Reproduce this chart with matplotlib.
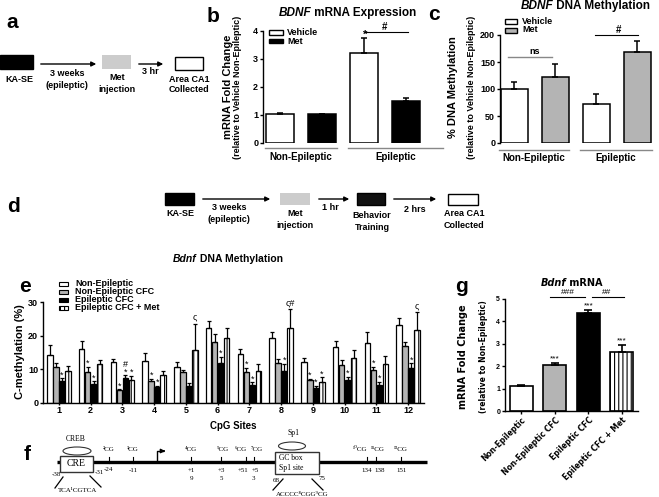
import numpy as np
import matplotlib
matplotlib.use('Agg')
import matplotlib.pyplot as plt
from matplotlib.patches import Rectangle, Ellipse

W, H = 659, 497

# ---- panel b: BDNF mRNA expression
b_groups = ['Non-Epileptic', 'Epileptic']
b_vehicle = [1.02, 3.2]
b_vehicle_err = [0.06, 0.55]
b_met = [1.02, 1.5]
b_met_err = [0.03, 0.12]

# ---- panel c: BDNF DNA methylation
c_groups = ['Non-Epileptic', 'Epileptic']
c_vehicle = [100, 72]
c_vehicle_err = [13, 19]
c_met = [122, 168]
c_met_err = [24, 20]

# ---- panel e: Bdnf DNA methylation per CpG site
e_sites = [1, 2, 3, 4, 5, 6, 7, 8, 9, 10, 11, 12]
e_series = ['Non-Epileptic', 'Non-Epileptic CFC', 'Epileptic CFC', 'Epileptic CFC + Met']
e_ne = [14.3, 15.9, 12.3, 12.5, 10.6, 22.2, 14.5, 19.4, 12.3, 16.5, 17.8, 23.1]
e_ne_err = [2.9, 2.6, 0.9, 2.3, 1.6, 2.3, 1.5, 1.6, 1.0, 2.0, 3.2, 2.0]
e_necfc = [10.8, 9.3, 3.8, 6.5, 9.1, 18.1, 9.1, 11.8, 6.7, 11.3, 9.8, 16.8]
e_necfc_err = [1.2, 1.5, 0.3, 0.7, 0.8, 2.4, 1.4, 1.4, 0.5, 1.5, 1.0, 1.2]
e_ecfc = [6.5, 5.7, 7.3, 4.8, 5.1, 11.8, 5.3, 9.5, 4.4, 6.8, 5.3, 10.3]
e_ecfc_err = [0.8, 0.7, 1.0, 0.3, 0.7, 1.9, 0.9, 2.2, 0.7, 1.0, 1.0, 1.5]
e_met = [9.6, 11.7, 6.9, 8.2, 15.8, 19.4, 9.6, 22.4, 6.3, 13.3, 11.5, 21.8]
e_met_err = [1.4, 1.1, 1.2, 1.3, 7.7, 3.0, 2.0, 5.5, 1.3, 2.3, 2.5, 5.2]
# (site, series index, mark)
e_marks = [(1, 2, '*'), (2, 1, '*'), (2, 2, '*'), (3, 1, '*'), (3, 2, '#\n*'), (3, 3, '*'),
           (4, 1, '*'), (4, 2, '*'), (5, 3, 'ς'), (6, 2, '*'), (7, 1, '*'), (7, 2, '*'),
           (8, 2, '*'), (8, 3, 'ς#'), (9, 1, '*'), (9, 2, '*'), (9, 3, '*'), (10, 2, '*'),
           (11, 1, '*'), (11, 2, '*'), (12, 2, '*'), (12, 3, 'ς')]

# ---- panel g: Bdnf mRNA
g_labels = ['Non-Epileptic', 'Non-Epileptic CFC', 'Epileptic CFC', 'Epileptic CFC + Met']
g_vals = [1.12, 2.07, 4.38, 2.65]
g_err = [0.06, 0.08, 0.12, 0.3]
g_marks = ['', '***', '***', '***']

GRAY = '#b4b4b4'
plt.rcParams['font.family'] = ['Liberation Sans', 'DejaVu Sans']
plt.rcParams['font.weight'] = 'bold'
plt.rcParams['axes.labelweight'] = 'bold'
plt.rcParams['hatch.linewidth'] = 0.8
SERIF = ['Liberation Serif', 'DejaVu Serif']
WIDE = ['DejaVu Sans']

fig = plt.figure(figsize=(W / 100, H / 100), dpi=100)
ov = fig.add_axes([0, 0, 1, 1])
ov.set_xlim(0, W)
ov.set_ylim(H, 0)
ov.axis('off')


def px_axes(l, t, w, h):
    return fig.add_axes([l / W, 1 - (t + h) / H, w / W, h / H])


def prism(ax, size=6.5):
    for s in ['top', 'right']:
        ax.spines[s].set_visible(False)
    for s in ['left', 'bottom']:
        ax.spines[s].set_linewidth(1.0)
    ax.tick_params(direction='out', length=2.5, width=1, labelsize=size, pad=1)
    ax.patch.set_alpha(0)


def bars(ax, x, vals, errs, color, width, hatch=None, lw=1.1, cap=2.5):
    ax.bar(x, vals, width, color=color, edgecolor='black', linewidth=lw, hatch=hatch, zorder=2)
    ax.errorbar(x, vals, yerr=[np.zeros(len(vals)), errs], fmt='none', ecolor='black',
                elinewidth=lw, capsize=cap, capthick=lw, zorder=3)


def box(x0, y0, x1, y1, fc, hatch=None, lw=1.0):
    ov.add_patch(Rectangle((x0, y0), x1 - x0, y1 - y0, facecolor=fc, edgecolor='black',
                           linewidth=lw, hatch=hatch))


def arrow(x0, x1, y):
    ov.annotate('', xy=(x1, y), xytext=(x0, y),
                arrowprops=dict(arrowstyle='-|>', color='black', lw=1.0, mutation_scale=7))


def title2(xsplit, y, ital, rest, size, family=None):
    kw = {'family': family} if family else {}
    ov.text(xsplit, y, ital, ha='right', va='center', fontsize=size, style='italic', **kw)
    ov.text(xsplit, y, rest, ha='left', va='center', fontsize=size, **kw)


# panel letters
for letter, x, y in [('a', 12, 23), ('b', 213, 17), ('c', 434, 15), ('d', 14, 207),
                     ('e', 25, 287), ('f', 27, 455), ('g', 461, 287)]:
    ov.text(x, y, letter, fontsize=15, ha='center', va='center')

# ---- panel a flow chart
box(0, 55, 33, 69, 'black')
ov.text(19, 80, 'KA-SE', ha='center', va='center', fontsize=6.5)
arrow(38, 99, 64)
ov.text(67, 74, '3 weeks', ha='center', va='center', fontsize=6.5)
ov.text(67, 85, '(epileptic)', ha='center', va='center', fontsize=6.5)
box(102, 55, 131, 69, '#cccccc', lw=0)
ov.text(117, 77, 'Met', ha='center', va='center', fontsize=6.5)
ov.text(117, 89, 'injection', ha='center', va='center', fontsize=6.5)
arrow(136, 166, 64)
ov.text(150, 72, '3 hr', ha='center', va='center', fontsize=6.5)
box(175, 57, 203, 70, 'white')
ov.text(189, 80, 'Area CA1', ha='center', va='center', fontsize=6.5)
ov.text(189, 90, 'Collected', ha='center', va='center', fontsize=6.5)

# ---- panel d flow chart
box(165, 193, 194, 205, 'black')
ov.text(180, 214, 'KA-SE', ha='center', va='center', fontsize=6.5)
arrow(200, 273, 199)
ov.text(229, 208, '3 weeks', ha='center', va='center', fontsize=6.5)
ov.text(229, 220, '(epileptic)', ha='center', va='center', fontsize=6.5)
box(280, 193, 310, 205, '#cccccc', lw=0)
ov.text(295, 214, 'Met', ha='center', va='center', fontsize=6.5)
ov.text(295, 226, 'injection', ha='center', va='center', fontsize=6.5)
arrow(316, 352, 199)
ov.text(330, 208, '1 hr', ha='center', va='center', fontsize=6.5)
box(357, 193, 385, 205, '#111111')
ov.text(372, 216, 'Behavior', ha='center', va='center', fontsize=6.5)
ov.text(372, 227, 'Training', ha='center', va='center', fontsize=6.5)
arrow(391, 439, 199)
ov.text(415, 209, '2 hrs', ha='center', va='center', fontsize=6.5)
box(448, 194, 478, 205, 'white')
ov.text(464, 214, 'Area CA1', ha='center', va='center', fontsize=6.5)
ov.text(464, 226, 'Collected', ha='center', va='center', fontsize=6.5)

# ---- panel b
axb = px_axes(263, 31, 180, 112)
prism(axb)
xb = np.array([0, 2])
bars(axb, xb, b_vehicle, b_vehicle_err, 'white', 0.67)
bars(axb, xb + 1, b_met, b_met_err, 'black', 0.67)
axb.set_xlim(-0.405, 3.88)
axb.set_ylim(0, 4)
axb.set_yticks([0, 1, 2, 3, 4])
axb.spines['bottom'].set_visible(False)
axb.set_xticks([])
for (x0, x1), name in zip([(-0.36, 1.36), (1.62, 3.88)], b_groups):
    axb.plot([x0, x1], [-0.18, -0.18], color='#888888', lw=1.0, clip_on=False)
    axb.text((x0 + x1) / 2, -0.32, name, ha='center', va='top', fontsize=7)
fig.text(228 / W, 1 - 87 / H, 'mRNA Fold Change', rotation=90, ha='center', va='center', fontsize=8)
fig.text(237 / W, 1 - 87 / H, '(relative to Vehicle Non-Epileptic)', rotation=90, ha='center',
         va='center', fontsize=6.5)
title2(311, 13, 'BDNF', ' mRNA Expression', 8.5)
box(269, 30, 283, 34.5, 'white')
box(269, 38.5, 283, 43, 'black')
ov.text(287, 32.5, 'Vehicle', va='center', fontsize=6.5)
ov.text(287, 41, 'Met', va='center', fontsize=6.5)
ov.text(365, 35, '*', ha='center', va='center', fontsize=8)
ov.plot([365, 408], [32, 32], color='black', lw=0.8)
ov.text(385, 27, '#', ha='center', va='center', fontsize=7)

# ---- panel c
axc = px_axes(500, 35, 155, 108)
prism(axc)
xc = np.array([0, 2])
bars(axc, xc, c_vehicle, c_vehicle_err, 'white', 0.65)
bars(axc, xc + 1, c_met, c_met_err, GRAY, 0.65)
axc.set_xlim(-0.35, 3.43)
axc.set_ylim(0, 200)
axc.set_yticks([0, 50, 100, 150, 200])
axc.spines['bottom'].set_visible(False)
axc.set_xticks([])
for (x0, x1), name in zip([(-0.38, 1.34), (1.59, 3.36)], c_groups):
    axc.plot([x0, x1], [-13, -13], color='#888888', lw=1.0, clip_on=False)
    axc.text((x0 + x1) / 2, -19, name, ha='center', va='top', fontsize=7)
fig.text(453 / W, 1 - 87 / H, '% DNA Methylation', rotation=90, ha='center', va='center', fontsize=8)
fig.text(472 / W, 1 - 87 / H, '(relative to Vehicle Non-Epileptic)', rotation=90, ha='center',
         va='center', fontsize=6.5)
title2(553, 6, 'BDNF', ' DNA Methylation', 8.5)
box(505, 19, 517, 23.5, 'white')
box(505, 28, 517, 32.5, GRAY)
ov.text(522, 21, 'Vehicle', va='center', fontsize=6.5)
ov.text(522, 30, 'Met', va='center', fontsize=6.5)
ov.plot([508, 552], [57, 57], color='#888888', lw=1.0)
ov.text(535, 52, 'ns', ha='center', va='center', fontsize=6.5)
ov.plot([595, 638], [35, 35], color='black', lw=0.8)
ov.text(619, 30, '#', ha='center', va='center', fontsize=7)

# ---- panel e
axe = px_axes(43, 302, 381, 101)
prism(axe)
xs = np.array(e_sites, dtype=float)
offs = [-0.285, -0.095, 0.095, 0.285]
e_vals = [e_ne, e_necfc, e_ecfc, e_met]
e_errs = [e_ne_err, e_necfc_err, e_ecfc_err, e_met_err]
e_style = [('white', None), (GRAY, None), ('black', None), ('white', '||||')]
for vals, errs, off, (fc, ht) in zip(e_vals, e_errs, offs, e_style):
    bars(axe, xs + off, vals, errs, fc, 0.17, hatch=ht, lw=0.9, cap=1.6)
for site, si, mark in e_marks:
    top = e_vals[si][site - 1] + e_errs[si][site - 1]
    if mark.startswith('ς'):
        axe.text(site + offs[si], top + 0.6, mark, ha='center', va='bottom', fontsize=6.5,
                 fontweight='normal', linespacing=0.8)
    else:
        axe.text(site + offs[si], top - 0.4, mark, ha='center', va='bottom', fontsize=6.5,
                 fontweight='normal', linespacing=0.8)
axe.set_xlim(0.5, 12.5)
axe.set_ylim(0, 30)
axe.set_yticks([0, 10, 20, 30])
axe.set_xticks(e_sites)
axe.tick_params(axis='x', length=1.5)
axe.set_xlabel('CpG Sites', fontsize=7, labelpad=4)
fig.text(20 / W, 1 - 352 / H, 'C-methylation (%)', rotation=90, ha='center', va='center', fontsize=8)
title2(197, 259, 'Bdnf', ' DNA Methylation', 7.5)
for i, (name, (fc, ht)) in enumerate(zip(e_series, e_style)):
    y = 284 + 8 * i
    box(59, y - 2.2, 68, y + 2.2, fc, hatch=ht, lw=0.8)
    ov.text(75, y, name, va='center', fontsize=6.5)

# ---- panel f promoter diagram
ov.plot([57, 427], [462, 462], color='black', lw=2.4, solid_capstyle='butt')
ov.add_patch(Rectangle((60, 456), 33, 16, facecolor='white', edgecolor='#333333', lw=1.0, zorder=3))
ov.text(76.5, 464, 'CRE', ha='center', va='center', fontsize=7, family=SERIF, fontweight='normal', zorder=4)
ov.add_patch(Ellipse((77, 451), 28, 8, facecolor='white', edgecolor='#333333', lw=0.8))
ov.text(76, 439, 'CREB', ha='center', va='center', fontsize=5.5, family=SERIF, fontweight='normal')
ov.add_patch(Rectangle((275, 452), 44, 22, facecolor='white', edgecolor='#333333', lw=1.0, zorder=3))
ov.text(279, 457.5, 'GC box', ha='left', va='center', fontsize=5.5, family=SERIF, fontweight='normal', zorder=4)
ov.text(279, 468, 'Sp1 site', ha='left', va='center', fontsize=5.5, family=SERIF, fontweight='normal', zorder=4)
ov.add_patch(Ellipse((292, 446), 27, 8, facecolor='white', edgecolor='#333333', lw=0.8))
ov.text(293, 433, 'Sp1', ha='center', va='center', fontsize=5.5, family=SERIF, fontweight='normal')
# (tick x, label x, label)
cg_sites = [(109, 109, '²CG'), (133, 133, '³CG'), (191, 191, '⁴CG'), (221, 223, '⁵CG'),
            (246, 241, '⁶CG'), (254, 257, '⁷CG'), (367, 360, '¹⁰CG'), (376, 378, '¹¹CG'),
            (401, 401, '¹²CG')]
for x, lx, lab in cg_sites:
    ov.plot([x, x], [457, 463], color='black', lw=0.8)
    ov.text(lx, 452, lab, ha='center', va='bottom', fontsize=5, family=SERIF, fontweight='normal')
for x, y, lab in [(56, 475, '-38'), (99, 472, '-31'), (108, 469.5, '-24'), (133, 470, '-11'),
                  (191, 470, '+1'), (191, 479, '9'), (221, 470, '+3'), (221, 479, '5'),
                  (243, 470, '+51'), (255, 470, '+5'), (253, 479, '3'), (276, 481, '68'),
                  (322, 479, '75'), (367, 470, '134'), (380, 470, '138'), (402, 470, '151')]:
    ov.text(x, y, lab, ha='center', va='center', fontsize=5, family=SERIF, fontweight='normal')
ov.plot([157, 157, 163], [462, 451, 451], color='black', lw=1.0)
ov.annotate('', xy=(168, 451), xytext=(161, 451),
            arrowprops=dict(arrowstyle='-|>', color='black', lw=1.0, mutation_scale=6))
ov.plot([63, 55], [477, 488], color='black', lw=0.9)
ov.plot([90, 101], [476, 487], color='black', lw=0.9)
ov.text(78, 490, 'TCA¹CGTCA', ha='center', va='center', fontsize=5, family=SERIF, fontweight='normal')
ov.plot([283, 273], [479, 490], color='black', lw=0.9)
ov.plot([312, 323], [479, 490], color='black', lw=0.9)
ov.text(302, 494, 'ACCCC⁸CGG⁹CG', ha='center', va='center', fontsize=5, family=SERIF, fontweight='normal')

# ---- panel g
axg = px_axes(505, 299, 133, 112)
prism(axg, size=5)
xg = np.arange(len(g_vals))
g_style = [('white', None), (GRAY, None), ('black', None), ('white', '||||')]
for i, (fc, ht) in enumerate(g_style):
    bars(axg, [xg[i]], [g_vals[i]], [g_err[i]], fc, 0.69, hatch=ht, lw=1.2, cap=3)
    if g_marks[i]:
        axg.text(xg[i], g_vals[i] + g_err[i] + 0.02, g_marks[i], ha='center', va='bottom',
                 fontsize=6, fontweight='normal')
axg.set_xlim(-0.49, 3.48)
axg.set_ylim(0, 5)
axg.set_yticks([0, 1, 2, 3, 4, 5])
axg.set_xticks(xg)
axg.set_xticklabels(g_labels, rotation=45, ha='right', rotation_mode='anchor', fontsize=5.5,
                    family=WIDE)
fig.text(463 / W, 1 - 357 / H, 'mRNA Fold Change', rotation=90, ha='center', va='center',
         fontsize=7, family=WIDE)
fig.text(483 / W, 1 - 357 / H, '(relative to Non-Epileptic)', rotation=90, ha='center',
         va='center', fontsize=5.5, family=WIDE)
title2(566, 283, 'Bdnf', ' mRNA', 7, family=WIDE)
ov.plot([550, 585], [297, 297], color='black', lw=0.8)
ov.text(568, 293, '###', ha='center', va='center', fontsize=6, fontweight='normal')
ov.plot([592, 624], [297, 297], color='black', lw=0.8)
ov.text(607, 293, '##', ha='center', va='center', fontsize=6, fontweight='normal')

fig.savefig('out.png', dpi=100)
